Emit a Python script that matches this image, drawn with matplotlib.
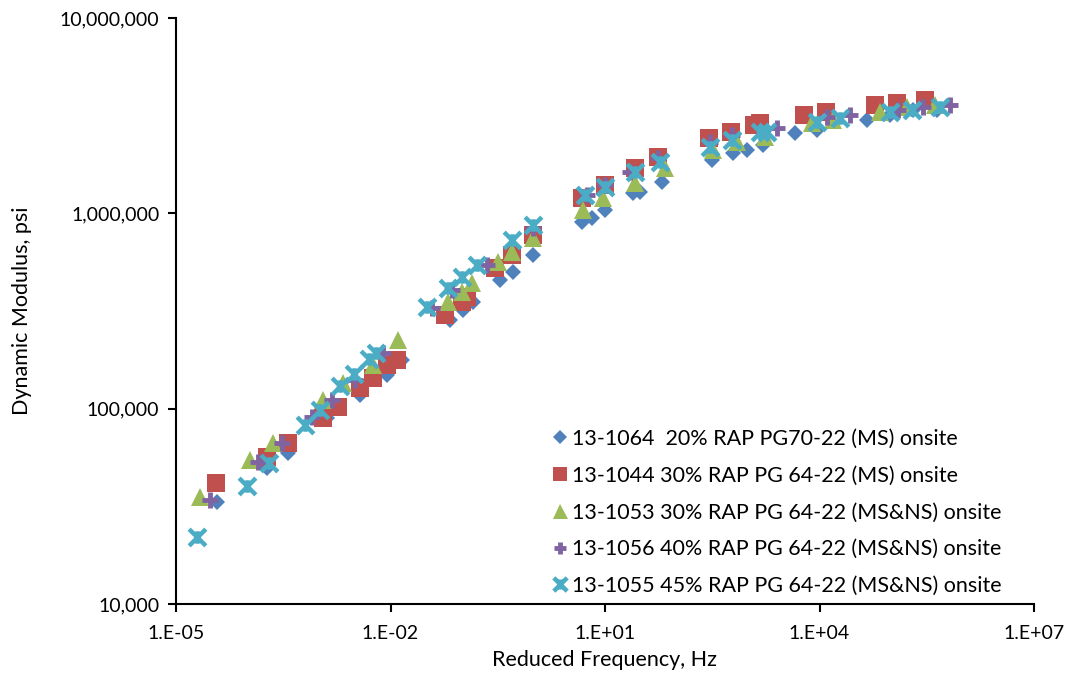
import math
import matplotlib
matplotlib.use("Agg")
import matplotlib.pyplot as plt
from matplotlib.path import Path
from matplotlib.ticker import FuncFormatter, FixedLocator, NullLocator

plt.rcParams['font.family'] = ['Lato', 'DejaVu Sans']

labels = [
    "13-1064  20% RAP PG70-22 (MS) onsite",
    "13-1044 30% RAP PG 64-22 (MS) onsite",
    "13-1053 30% RAP PG 64-22 (MS&NS) onsite",
    "13-1056 40% RAP PG 64-22 (MS&NS) onsite",
    "13-1055 45% RAP PG 64-22 (MS&NS) onsite",
]

x_ticks = [1e-5, 1e-2, 1e1, 1e4, 1e7]
y_ticks = [1e4, 1e5, 1e6, 1e7]

freq_1064 = [3.74e-5, 1.88e-4, 3.68e-4, 1.29e-3, 3.74e-3, 8.9e-3, 0.0145, 0.0679, 0.103, 0.143,
             0.34, 0.516, 0.984, 4.77, 6.58, 10.0, 24.7, 30.9, 62.7, 314, 617, 968, 1620,
             4540, 9230, 46100, 96800, 203000, 440000]
mod_1064 = [33400, 49900, 59600, 90000, 118000, 149000, 178000, 285000, 321000, 353000,
            457000, 502000, 613000, 905000, 949000, 1042000, 1273000, 1288000, 1449000,
            1878000, 2040000, 2113000, 2240000, 2580000, 2673000, 3010000, 3190000, 3384000, 3384000]

freq_1044 = [3.62e-5, 1.88e-4, 3.68e-4, 1.14e-3, 1.85e-3, 3.74e-3, 5.69e-3, 8.9e-3, 0.0123,
             0.0578, 0.1, 0.117, 0.29, 0.5, 0.984, 4.77, 10.0, 26.3, 55.1, 285, 578, 1213,
             1472, 6070, 12300, 59700, 121000, 299000]
mod_1044 = [41800, 56800, 67000, 90000, 102000, 128000, 144000, 168000, 178000,
            303000, 353000, 374000, 526000, 613000, 776000, 1200000, 1400000, 1709000,
            1945000, 2434000, 2611000, 2835000, 2900000, 3190000, 3306000, 3589000,
            3673000, 3808000]

freq_1053 = [2.17e-5, 1.08e-4, 2.28e-4, 1.14e-3, 2.17e-3, 5.69e-3, 0.0127, 0.0637, 0.1, 0.138,
             0.318, 0.5, 0.984, 4.92, 9.38, 26.3, 69, 324, 702, 1730, 7850, 15500, 70100,
             167000, 412000]
mod_1053 = [35500, 54800, 67000, 111000, 136000, 168000, 225000, 353000, 397000, 441000,
            565000, 635000, 749000, 1042000, 1200000, 1432000, 1709000, 2113000, 2323000,
            2462000, 2900000, 3010000, 3306000, 3505000, 3589000]

freq_1056 = [3.0e-5, 1.40e-4, 3.04e-4, 7.98e-4, 1.52e-3, 3.18e-3, 7.85e-3, 0.038, 0.0724,
             0.224, 0.984, 5.6, 10.0, 22.4, 55.1, 294, 597, 2546, 12700, 26700, 125000,
             280000, 668000]
mod_1056 = [34200, 53600, 67000, 91000, 111000, 141000, 193000, 329000, 406000, 546000,
            843000, 1243000, 1400000, 1630000, 1923000, 2323000, 2520000, 2737000, 3116000,
            3190000, 3384000, 3505000, 3589000]

freq_1055 = [1.97e-5, 9.84e-5, 2.0e-4, 6.37e-4, 1.03e-3, 1.97e-3, 3.09e-3, 5.0e-3, 6.26e-3,
             0.0324, 0.0637, 0.1, 0.162, 0.5, 0.984, 5.25, 10.0, 26.3, 58.8, 294, 597, 1472,
             1845, 9230, 19400, 96800, 197000, 484000]
mod_1055 = [22100, 40400, 52900, 82800, 98900, 130000, 151000, 180000, 193000, 332000,
            416000, 473000, 546000, 732000, 873000, 1243000, 1367000, 1630000, 1834000,
            2188000, 2377000, 2611000, 2611000, 2937000, 3080000, 3306000, 3384000, 3505000]

colors = ["#4F81BD", "#C0504D", "#9BBB59", "#8064A2", "#4BACC6"]

star_path = Path(
    [(-1, -1), (1, 1), (-1, 1), (1, -1), (0, -0.75), (0, 0.75)],
    [Path.MOVETO, Path.LINETO, Path.MOVETO, Path.LINETO, Path.MOVETO, Path.LINETO],
)

fig = plt.figure(figsize=(10.73, 6.82), dpi=100)
ax = fig.add_axes([176 / 1073, 1 - 604 / 682, (1034 - 176) / 1073, (604 - 18) / 682])

ax.plot(freq_1064, mod_1064, linestyle="none", marker="D", markersize=8.5,
        color=colors[0], markeredgewidth=0, label=labels[0])
ax.plot(freq_1044, mod_1044, linestyle="none", marker="s", markersize=12.5,
        color=colors[1], markeredgewidth=0, label=labels[1])
ax.plot(freq_1053, mod_1053, linestyle="none", marker="^", markersize=13.5,
        color=colors[2], markeredgewidth=0, label=labels[2])
ax.plot(freq_1056, mod_1056, linestyle="none", marker="+", markersize=11.5,
        color=colors[3], markeredgewidth=3.5, label=labels[3])
ax.plot(freq_1055, mod_1055, linestyle="none", marker=star_path, markersize=12,
        color=colors[4], markeredgewidth=3.2, label=labels[4])

ax.set_xscale("log")
ax.set_yscale("log")
ax.set_xlim(x_ticks[0], x_ticks[-1])
ax.set_ylim(y_ticks[0], y_ticks[-1])

ax.xaxis.set_major_locator(FixedLocator(x_ticks))
ax.xaxis.set_minor_locator(NullLocator())
ax.yaxis.set_major_locator(FixedLocator(y_ticks))
ax.yaxis.set_minor_locator(NullLocator())


def xfmt(v, pos):
    e = int(round(math.log10(v)))
    return "1.E{}{:02d}".format("+" if e >= 0 else "-", abs(e))


ax.xaxis.set_major_formatter(FuncFormatter(xfmt))
ax.yaxis.set_major_formatter(FuncFormatter(lambda v, p: "{:,.0f}".format(v)))

for s in ["top", "right"]:
    ax.spines[s].set_visible(False)
for s in ["left", "bottom"]:
    ax.spines[s].set_linewidth(1.5)
ax.tick_params(axis="both", which="major", direction="out", length=6, width=1.5,
               labelsize=14, colors="black")
ax.tick_params(axis="x", pad=9)
ax.tick_params(axis="y", pad=6)

ax.set_xlabel("Reduced Frequency, Hz", fontsize=15.5, labelpad=6)
ax.set_ylabel("Dynamic Modulus, psi", fontsize=15.5, labelpad=20)

leg = ax.legend(loc="lower left", bbox_to_anchor=(550 / 1073, 1 - 596 / 682),
                bbox_transform=fig.transFigure, frameon=False, fontsize=15.5,
                handletextpad=0.1, handlelength=0.9, labelspacing=0.78,
                borderaxespad=0, borderpad=0, markerscale=0.8)

fig.savefig("out.png", dpi=100)
